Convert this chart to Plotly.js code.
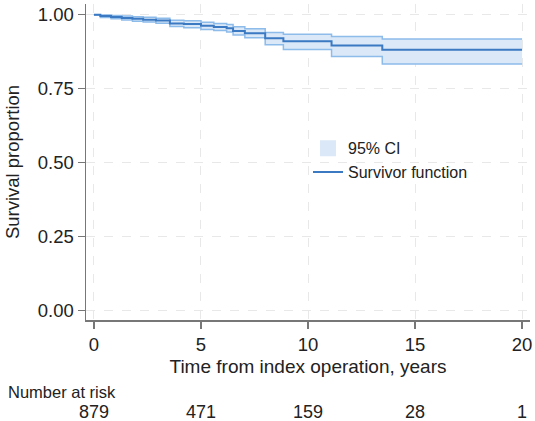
<!DOCTYPE html>
<html>
<head>
<meta charset="utf-8">
<script src="https://cdn.plot.ly/plotly-3.0.1.min.js"></script>
<style>
html,body{margin:0;padding:0;background:#fff;}
#chart{width:535px;height:421px;}
</style>
</head>
<body>
<div id="chart"></div>
<script>
// Kaplan-Meier estimates
const timeYears = [0, 0.3, 0.8, 1.3, 1.8, 2.3, 2.9, 3.55, 4.2, 5.0, 5.6, 6.2, 6.5, 7.05, 8.0, 8.85, 11.1, 13.47, 20];
const survival  = [1.000, 0.995, 0.992, 0.989, 0.986, 0.983, 0.980, 0.970, 0.968, 0.962, 0.958, 0.954, 0.945, 0.937, 0.920, 0.910, 0.896, 0.881, 0.881];
const upperCI   = [1.000, 0.999, 0.997, 0.995, 0.993, 0.991, 0.988, 0.981, 0.979, 0.974, 0.970, 0.967, 0.959, 0.952, 0.940, 0.934, 0.926, 0.918, 0.918];
const lowerCI   = [1.000, 0.990, 0.986, 0.982, 0.978, 0.975, 0.971, 0.960, 0.956, 0.950, 0.946, 0.941, 0.931, 0.922, 0.898, 0.882, 0.858, 0.833, 0.833];

const xTicks = [0, 5, 10, 15, 20];
const yTicks = [0, 0.25, 0.5, 0.75, 1];
const riskTimes  = [0, 5, 10, 15, 20];
const riskCounts = [879, 471, 159, 28, 1];

const FONT = 'Liberation Sans, Arial, Helvetica, sans-serif';
const fillCol = '#dbe8f7';
const edgeCol = '#8dbbea';
const lineCol = '#3b79c3';

const traces = [
  {x: timeYears, y: lowerCI, mode: 'lines', line: {shape: 'hv', width: 0}, showlegend: false, hoverinfo: 'skip'},
  {x: timeYears, y: upperCI, mode: 'lines', line: {shape: 'hv', width: 0}, fill: 'tonexty', fillcolor: fillCol, showlegend: false, legendgroup: 'ci'},
  {x: timeYears, y: upperCI, mode: 'lines', line: {shape: 'hv', width: 1.5, color: edgeCol}, showlegend: false},
  {x: timeYears, y: lowerCI, mode: 'lines', line: {shape: 'hv', width: 1.5, color: edgeCol}, showlegend: false},
  {x: [null], y: [null], mode: 'markers', marker: {symbol: 'square', size: 16, color: fillCol}, name: '95% CI', legendgroup: 'ci', legendrank: 1},
  {x: timeYears, y: survival, mode: 'lines', line: {shape: 'hv', width: 2, color: lineCol}, name: 'Survivor function', legendrank: 2}
];

const annotations = [
  {xref: 'paper', yref: 'paper', x: -0.180, y: -0.228, xanchor: 'left', yanchor: 'middle', showarrow: false,
   text: 'Number at risk', font: {family: FONT, size: 16.5, color: '#222'}}
];
riskTimes.forEach((t, i) => {
  annotations.push({xref: 'x', yref: 'paper', x: t, y: -0.29, xanchor: 'center', yanchor: 'middle', showarrow: false,
    text: String(riskCounts[i]), font: {family: FONT, size: 18, color: '#222'}});
});

const layout = {
  width: 535, height: 421,
  margin: {l: 86, r: 5, t: 4, b: 101},
  paper_bgcolor: '#fff', plot_bgcolor: '#fff',
  font: {family: FONT, color: '#222'},
  showlegend: true,
  legend: {x: 0.5, y: 0.597, xanchor: 'left', yanchor: 'top', bgcolor: 'rgba(0,0,0,0)',
           font: {family: FONT, size: 16, color: '#222'}, traceorder: 'normal', itemwidth: 30, tracegroupgap: 0},
  xaxis: {
    range: [-0.37, 20.37], tickvals: xTicks, ticktext: xTicks.map(String),
    showline: true, linecolor: '#777', linewidth: 1.5, ticks: 'outside', ticklen: 7, tickcolor: '#777', tickwidth: 1.2,
    showgrid: true, gridcolor: '#e8e8e8', griddash: 'dash', gridwidth: 1, zeroline: false,
    tickfont: {family: FONT, size: 18.5, color: '#222'},
    title: {text: 'Time from index operation, years', font: {family: FONT, size: 19, color: '#222'}, standoff: 6}
  },
  yaxis: {
    range: [-0.033, 1.036], tickvals: yTicks, ticktext: yTicks.map(v => v.toFixed(2)),
    showline: true, linecolor: '#777', linewidth: 1.5, ticks: 'outside', ticklen: 7, tickcolor: '#777', tickwidth: 1.2,
    showgrid: true, gridcolor: '#e8e8e8', griddash: 'dash', gridwidth: 1, zeroline: false,
    tickfont: {family: FONT, size: 18.5, color: '#222'},
    title: {text: 'Survival proportion', font: {family: FONT, size: 18.5, color: '#222'}, standoff: 13}
  },
  annotations: annotations
};

Plotly.newPlot('chart', traces, layout, {displayModeBar: false, staticPlot: true});
</script>
</body>
</html>
